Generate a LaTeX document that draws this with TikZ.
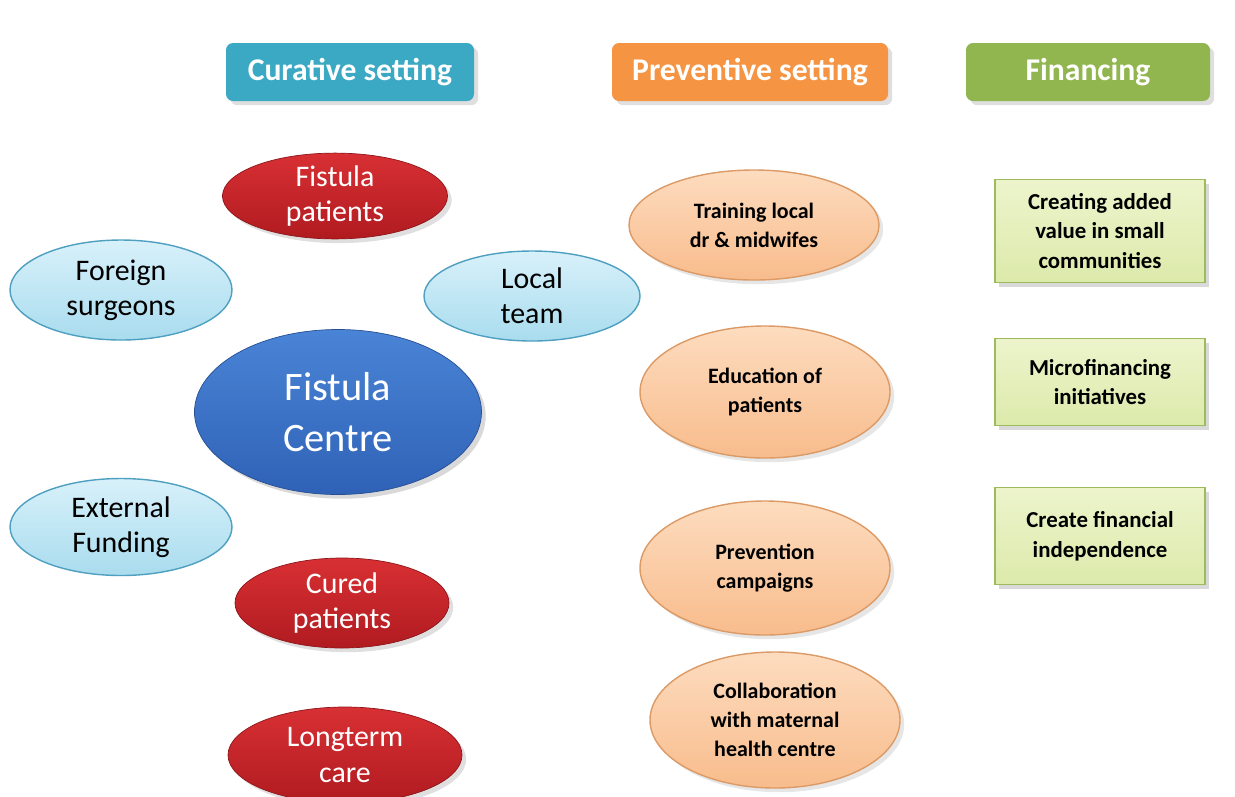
\documentclass[tikz,border=0pt]{standalone}
\usepackage{fontspec}
\setmainfont{Carlito}
\usetikzlibrary{shapes.geometric,shadows}

\definecolor{curblue}{HTML}{3BA9C3}
\definecolor{prevorange}{HTML}{F59442}
\definecolor{fingreen}{HTML}{92B64F}
\definecolor{redtop}{HTML}{D83034}
\definecolor{redbot}{HTML}{B01B20}
\definecolor{centtop}{HTML}{4A84D6}
\definecolor{centbot}{HTML}{2F62B6}
\definecolor{skytop}{HTML}{D8F1FA}
\definecolor{skybot}{HTML}{A9DCEE}
\definecolor{skyedge}{HTML}{4E9FC0}
\definecolor{peachtop}{HTML}{FDDCBF}
\definecolor{peachbot}{HTML}{F8BC8C}
\definecolor{peachedge}{HTML}{DC9A66}
\definecolor{limetop}{HTML}{EDF4CC}
\definecolor{limebot}{HTML}{DCEAAB}
\definecolor{limeedge}{HTML}{9DBB5C}

\tikzset{
  header/.style={rectangle, rounded corners=4pt, minimum height=1.16cm,
    text=white, font=\fontsize{18}{20}\selectfont\bfseries, drop shadow={opacity=0.25}},
  redpill/.style={ellipse, inner sep=0pt, draw=redbot!80!black, thin,
    top color=redtop, bottom color=redbot, text=white, align=center,
    font=\fontsize{17}{20}\selectfont, drop shadow={opacity=0.25}},
  skypill/.style={ellipse, inner sep=0pt, draw=skyedge, thick,
    top color=skytop, bottom color=skybot, text=black, align=center,
    font=\fontsize{17}{20}\selectfont},
  hubnode/.style={ellipse, inner sep=0pt, draw=centbot!80!black,
    top color=centtop, bottom color=centbot, text=white, align=center,
    font=\fontsize{23}{29}\selectfont, drop shadow={opacity=0.3}},
  peachpill/.style={ellipse, inner sep=0pt, draw=peachedge, thick,
    top color=peachtop, bottom color=peachbot, text=black, align=center,
    minimum width=5cm, font=\fontsize{12.5}{16.5}\selectfont\bfseries,
    drop shadow={opacity=0.2}},
  finbox/.style={rectangle, draw=limeedge, thick, top color=limetop,
    bottom color=limebot, minimum width=4.2cm, align=center,
    font=\fontsize{13}{17}\selectfont\bfseries, drop shadow={opacity=0.3}}
}

\begin{document}
\begin{tikzpicture}
\useasboundingbox (0,0) rectangle (24.7,-15.92);

% column headers
\node[header, fill=curblue, minimum width=4.96cm] (curative) at (7.0,-1.44) {Curative setting};
\node[header, fill=prevorange, minimum width=5.52cm] (preventive) at (15.0,-1.44) {Preventive setting};
\node[header, fill=fingreen, minimum width=4.88cm] (financing) at (21.76,-1.44) {Financing};

% curative setting
\node[redpill, minimum width=4.5cm, minimum height=1.64cm] (patients) at (6.7,-3.92) {Fistula\\patients};
\node[skypill, minimum width=4.44cm, minimum height=2.0cm] (surgeons) at (2.42,-5.8) {Foreign\\surgeons};
\node[skypill, minimum width=4.32cm, minimum height=1.8cm] (localteam) at (10.64,-5.92) {Local\\team};
\node[hubnode, minimum width=5.74cm, minimum height=3.3cm] (centre) at (6.76,-8.24) {Fistula\\Centre};
\node[skypill, minimum width=4.44cm, minimum height=1.94cm] (funding) at (2.42,-10.54) {External\\Funding};
\node[redpill, minimum width=4.28cm, minimum height=1.8cm] (cured) at (6.84,-12.06) {Cured\\patients};
\node[redpill, minimum width=4.68cm, minimum height=1.92cm] (longterm) at (6.9,-15.1) {Longterm\\care};

% preventive setting
\node[peachpill, minimum height=2.2cm] (training) at (15.08,-4.5) {Training local\\dr \& midwifes};
\node[peachpill, minimum height=2.64cm] (education) at (15.3,-7.84) {Education of\\patients};
\node[peachpill, minimum height=2.68cm] (campaigns) at (15.3,-11.36) {Prevention\\campaigns};
\node[peachpill, minimum height=2.72cm] (maternal) at (15.5,-14.4) {Collaboration\\with maternal\\health centre};

% financing
\node[finbox, minimum height=2.06cm] (addedvalue) at (22.0,-4.62) {Creating added\\value in small\\communities};
\node[finbox, minimum height=1.74cm] (microfin) at (22.0,-7.64) {Microfinancing\\initiatives};
\node[finbox, minimum height=1.94cm] (independence) at (22.0,-10.72) {Create financial\\independence};

\end{tikzpicture}
\end{document}
